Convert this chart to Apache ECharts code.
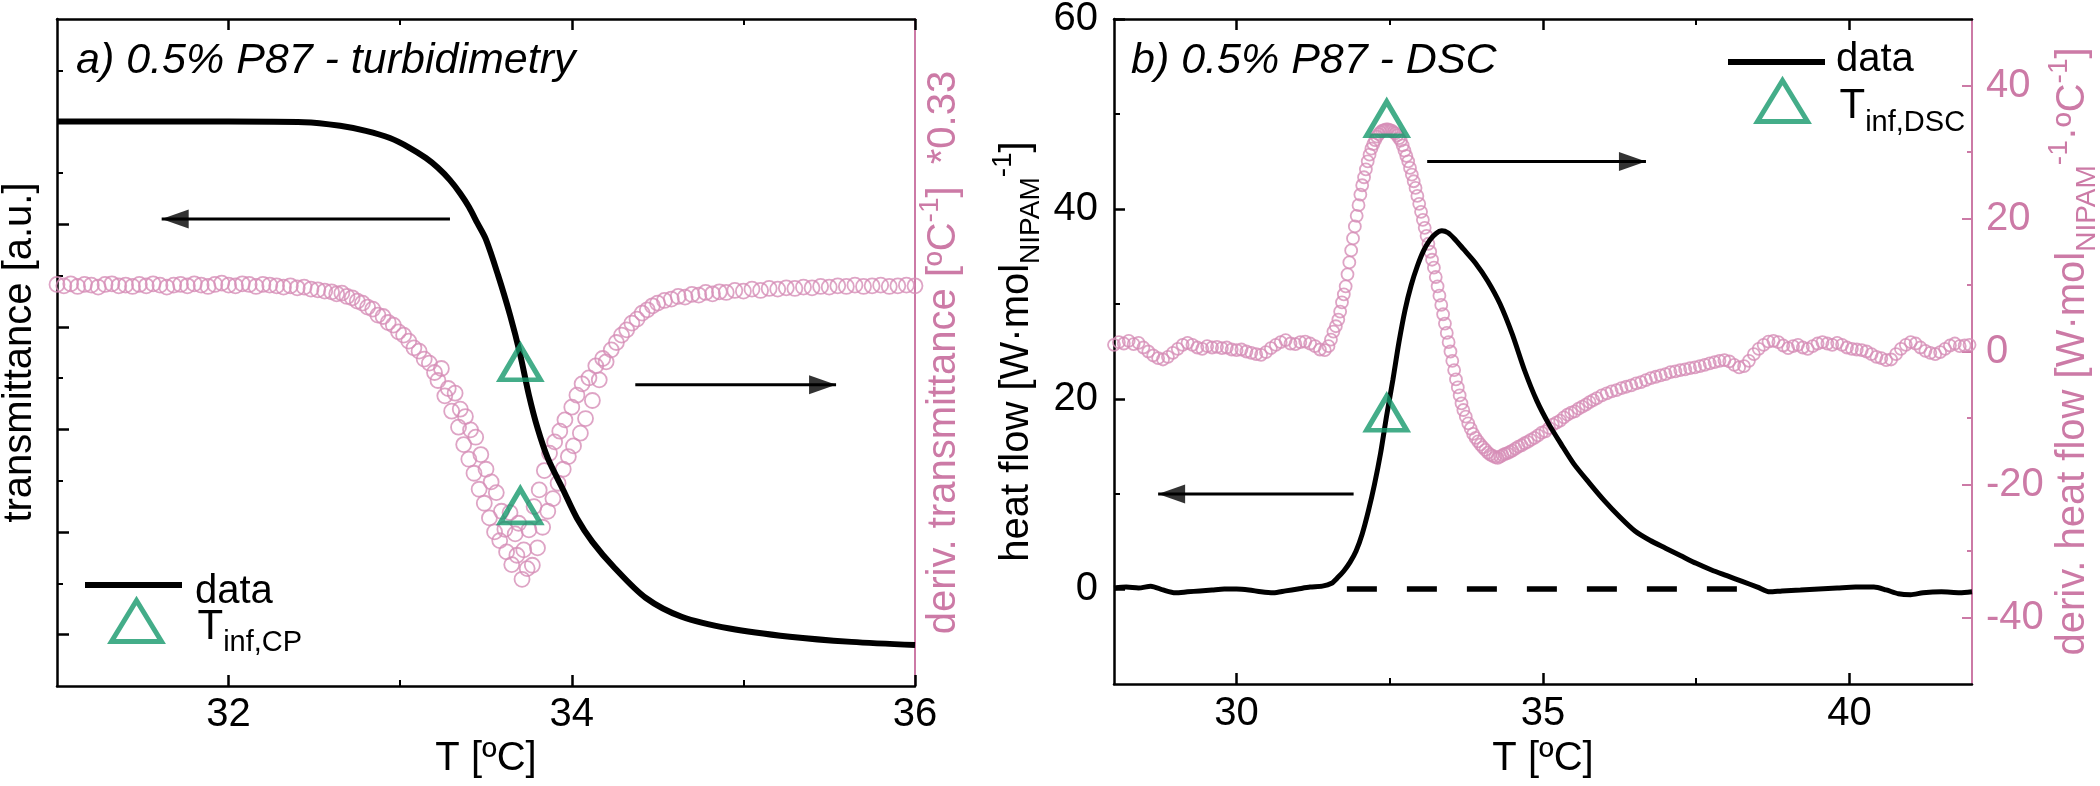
<!DOCTYPE html>
<html><head><meta charset="utf-8">
<script src="https://cdn.jsdelivr.net/npm/echarts@6/dist/echarts.min.js"></script>
<style>html,body{margin:0;padding:0;background:#fff}#c{width:2100px;height:786px}</style>
</head><body><div id="c"></div>
<script>
// ================= DATA =================
// Panel a: transmittance (left axis, a.u.)  [T, value]
const transData = [[31.00,11.00],[32.00,11.00],[32.44,10.99],[32.65,10.92],[32.80,10.82],[32.94,10.68],[33.05,10.50],[33.15,10.29],[33.22,10.10],[33.29,9.86],[33.35,9.60],[33.40,9.34],[33.45,9.02],[33.50,8.70],[33.57,8.01],[33.64,7.23],[33.70,6.45],[33.75,5.67],[33.80,5.03],[33.86,4.44],[33.95,3.82],[34.03,3.27],[34.12,2.81],[34.25,2.30],[34.43,1.72],[34.64,1.35],[34.92,1.12],[35.27,0.96],[35.63,0.86],[36.00,0.80]];
// Panel a: derivative of transmittance (right axis)  [T, value]
const dTransData = [[31.00,0.2],[31.04,0.0],[31.08,0.3],[31.12,-0.1],[31.16,0.2],[31.20,0.1],[31.24,-0.2],[31.28,0.2],[31.32,0.3],[31.36,0.0],[31.40,0.1],[31.44,-0.1],[31.48,0.2],[31.52,0.0],[31.56,0.3],[31.60,0.1],[31.64,-0.2],[31.68,0.1],[31.72,0.2],[31.76,0.0],[31.80,0.3],[31.84,0.1],[31.88,-0.1],[31.92,0.2],[31.96,0.4],[32.00,0.1],[32.04,0.0],[32.08,0.3],[32.12,0.2],[32.16,-0.1],[32.20,0.2],[32.24,0.1],[32.28,0.0],[32.32,-0.2],[32.36,0.0],[32.40,-0.3],[32.44,-0.2],[32.48,-0.5],[32.52,-0.6],[32.56,-0.8],[32.60,-0.9],[32.63,-1.2],[32.66,-1.1],[32.69,-1.6],[32.72,-1.8],[32.75,-2.3],[32.78,-2.6],[32.81,-3.2],[32.84,-3.5],[32.87,-4.4],[32.90,-4.6],[32.93,-5.5],[32.96,-5.9],[32.99,-6.9],[33.02,-7.4],[33.05,-8.3],[33.08,-9.3],[33.11,-9.8],[33.14,-11.0],[33.17,-11.6],[33.20,-13.0],[33.22,-14.2],[33.24,-12.4],[33.26,-16.5],[33.28,-15.4],[33.30,-18.8],[33.32,-16.1],[33.34,-21.2],[33.35,-18.5],[33.37,-23.8],[33.38,-19.6],[33.40,-26.0],[33.41,-21.6],[33.43,-28.1],[33.44,-22.7],[33.46,-30.5],[33.47,-25.3],[33.49,-32.6],[33.50,-27.5],[33.52,-34.8],[33.53,-29.4],[33.55,-36.9],[33.56,-31.0],[33.58,-38.2],[33.59,-33.8],[33.61,-36.5],[33.62,-39.9],[33.64,-34.0],[33.65,-41.8],[33.67,-37.2],[33.68,-40.4],[33.69,-35.6],[33.71,-44.0],[33.72,-39.6],[33.74,-42.4],[33.75,-36.6],[33.77,-41.9],[33.78,-33.1],[33.80,-39.3],[33.81,-30.6],[33.83,-36.2],[33.84,-27.7],[33.86,-33.8],[33.87,-25.1],[33.89,-31.9],[33.90,-23.4],[33.92,-29.6],[33.93,-21.8],[33.95,-27.5],[33.96,-20.1],[33.98,-25.6],[34.00,-18.2],[34.01,-24.0],[34.03,-16.4],[34.05,-22.1],[34.06,-14.7],[34.08,-19.9],[34.10,-13.8],[34.12,-17.2],[34.14,-12.0],[34.16,-14.1],[34.18,-10.9],[34.20,-11.4],[34.23,-9.6],[34.26,-8.5],[34.29,-7.4],[34.32,-6.6],[34.35,-5.6],[34.38,-5.0],[34.41,-4.1],[34.44,-3.6],[34.47,-3.0],[34.50,-2.6],[34.54,-2.2],[34.58,-2.0],[34.62,-1.6],[34.66,-1.7],[34.70,-1.3],[34.74,-1.4],[34.78,-1.0],[34.82,-1.2],[34.86,-0.9],[34.90,-1.0],[34.95,-0.7],[35.00,-0.8],[35.05,-0.5],[35.10,-0.7],[35.15,-0.4],[35.20,-0.5],[35.25,-0.3],[35.30,-0.4],[35.35,-0.2],[35.40,-0.3],[35.45,-0.1],[35.50,-0.2],[35.55,0.0],[35.60,-0.1],[35.65,0.1],[35.70,-0.1],[35.75,0.0],[35.80,0.1],[35.85,-0.1],[35.90,0.0],[35.95,0.1],[36.00,0.0]];
// Panel b: heat flow (left axis)  [T, value]
const heatData = [[28.00,0.1],[28.20,0.2],[28.40,0.1],[28.60,0.3],[28.80,-0.1],[29.00,-0.4],[29.20,-0.3],[29.40,-0.2],[29.60,-0.1],[29.80,0.0],[30.00,0.0],[30.20,-0.1],[30.40,-0.3],[30.60,-0.4],[30.80,-0.2],[31.00,0.0],[31.20,0.2],[31.40,0.3],[31.55,0.6],[31.65,1.2],[31.75,1.9],[31.85,2.8],[31.95,4.0],[32.05,5.8],[32.15,8.2],[32.25,11.0],[32.35,14.3],[32.45,18.3],[32.55,22.0],[32.65,26.0],[32.75,29.4],[32.85,32.0],[32.95,34.0],[33.05,35.6],[33.15,36.7],[33.25,37.4],[33.35,37.7],[33.45,37.5],[33.55,36.9],[33.70,35.8],[33.90,34.3],[34.10,32.4],[34.30,30.0],[34.50,26.8],[34.70,23.0],[34.90,19.8],[35.10,17.3],[35.30,15.2],[35.50,13.2],[35.75,11.2],[36.00,9.3],[36.25,7.6],[36.50,6.1],[36.75,5.1],[37.00,4.3],[37.25,3.5],[37.50,2.7],[37.75,2.0],[38.00,1.4],[38.25,0.8],[38.50,0.2],[38.70,-0.3],[38.90,-0.2],[39.20,-0.1],[39.50,0.0],[39.80,0.1],[40.10,0.2],[40.40,0.2],[40.60,-0.1],[40.80,-0.5],[41.00,-0.6],[41.20,-0.4],[41.50,-0.3],[41.80,-0.4],[42.00,-0.3]];
// Panel b: dashed baseline (left axis)
const baselineData = [[31.80,0],[38.60,0]];
// Panel b: derivative of heat flow (right axis)  [T, value]
const dHeatData = [[28.00,1.0],[28.08,1.4],[28.16,1.2],[28.24,1.6],[28.32,1.1],[28.40,1.3],[28.48,0.6],[28.56,0.0],[28.64,-0.6],[28.72,-1.0],[28.80,-1.2],[28.88,-0.8],[28.96,-0.2],[29.04,0.4],[29.12,1.0],[29.20,1.3],[29.28,1.0],[29.36,0.6],[29.44,0.4],[29.52,0.8],[29.60,0.6],[29.68,0.7],[29.76,0.5],[29.84,0.6],[29.92,0.3],[30.00,0.2],[30.08,0.3],[30.16,0.0],[30.24,-0.2],[30.32,-0.4],[30.40,-0.5],[30.48,-0.1],[30.56,0.5],[30.64,1.0],[30.72,1.4],[30.80,1.7],[30.88,1.2],[30.96,1.1],[31.04,1.4],[31.12,1.5],[31.20,1.2],[31.28,0.8],[31.36,0.3],[31.44,0.2],[31.50,0.8],[31.54,1.8],[31.58,3.0],[31.62,3.8],[31.66,4.8],[31.69,6.0],[31.72,7.4],[31.75,8.6],[31.78,9.8],[31.81,11.6],[31.84,13.4],[31.87,15.2],[31.90,17.0],[31.93,18.8],[31.96,20.4],[31.99,22.0],[32.02,23.6],[32.05,25.0],[32.08,26.2],[32.11,27.4],[32.14,28.6],[32.17,29.6],[32.20,30.5],[32.23,31.2],[32.26,31.8],[32.29,32.3],[32.32,32.7],[32.35,33.0],[32.38,33.2],[32.41,33.3],[32.44,33.4],[32.47,33.4],[32.50,33.3],[32.53,33.2],[32.56,33.0],[32.59,32.8],[32.62,32.5],[32.65,32.1],[32.68,31.7],[32.71,31.0],[32.74,30.2],[32.77,29.4],[32.80,28.6],[32.83,27.6],[32.86,26.6],[32.89,25.6],[32.92,24.6],[32.95,23.4],[32.98,22.2],[33.01,21.0],[33.04,19.8],[33.07,18.6],[33.10,17.4],[33.13,16.2],[33.16,15.0],[33.19,13.8],[33.22,12.6],[33.25,11.2],[33.28,9.8],[33.31,8.4],[33.34,7.0],[33.37,5.6],[33.40,4.2],[33.43,2.8],[33.46,1.4],[33.49,0.0],[33.52,-1.4],[33.55,-2.8],[33.58,-4.2],[33.61,-5.4],[33.64,-6.6],[33.67,-7.8],[33.70,-8.8],[33.74,-9.8],[33.78,-10.8],[33.82,-11.6],[33.86,-12.4],[33.90,-13.0],[33.94,-13.5],[33.98,-14.0],[34.02,-14.4],[34.06,-14.8],[34.10,-15.2],[34.14,-15.5],[34.18,-15.7],[34.22,-15.9],[34.26,-16.0],[34.30,-15.8],[34.34,-15.6],[34.38,-15.4],[34.42,-15.3],[34.46,-15.1],[34.50,-14.9],[34.55,-14.6],[34.60,-14.3],[34.65,-14.1],[34.70,-13.8],[34.75,-13.6],[34.80,-13.3],[34.86,-13.0],[34.92,-12.6],[34.98,-12.2],[35.04,-12.0],[35.10,-11.5],[35.16,-11.0],[35.22,-10.7],[35.28,-10.4],[35.34,-9.9],[35.40,-9.5],[35.46,-9.2],[35.52,-9.0],[35.58,-8.6],[35.64,-8.3],[35.70,-8.0],[35.76,-7.6],[35.82,-7.3],[35.88,-7.0],[35.96,-6.6],[36.04,-6.3],[36.12,-6.0],[36.20,-5.8],[36.28,-5.5],[36.36,-5.3],[36.44,-5.1],[36.52,-4.8],[36.60,-4.6],[36.68,-4.3],[36.76,-4.0],[36.84,-3.8],[36.92,-3.6],[37.00,-3.4],[37.08,-3.1],[37.16,-3.0],[37.24,-2.8],[37.32,-2.7],[37.40,-2.5],[37.48,-2.4],[37.56,-2.2],[37.64,-2.0],[37.72,-1.8],[37.80,-1.6],[37.88,-1.4],[37.96,-1.3],[38.04,-1.5],[38.12,-2.0],[38.20,-2.4],[38.28,-2.2],[38.36,-1.4],[38.44,-0.4],[38.52,0.4],[38.60,1.0],[38.68,1.5],[38.76,1.6],[38.84,1.4],[38.92,0.9],[39.00,0.5],[39.08,0.8],[39.16,1.0],[39.24,0.6],[39.32,0.4],[39.40,0.8],[39.48,1.2],[39.56,1.4],[39.64,1.2],[39.72,1.0],[39.80,1.3],[39.88,1.0],[39.96,0.6],[40.04,0.4],[40.12,0.3],[40.20,0.2],[40.28,0.0],[40.36,-0.4],[40.44,-0.8],[40.52,-1.0],[40.60,-1.3],[40.68,-1.2],[40.76,-0.4],[40.84,0.4],[40.92,1.0],[41.00,1.4],[41.08,1.2],[41.16,0.6],[41.24,0.1],[41.32,-0.2],[41.40,-0.4],[41.48,-0.1],[41.56,0.4],[41.64,0.9],[41.72,1.2],[41.80,0.8],[41.88,0.9],[41.96,1.0]];
// Inflection markers
const tinfCPTrans = [[33.70, 6.3]];
const tinfCPDeriv = [[33.70, -33]];
const tinfDSCHeat = [[32.45, 18.5]];
const tinfDSCDeriv = [[32.45, 35]];
// Arrows: [tailT, tailY, tipT, tipY] in left-axis units
const arrowsA = [[33.29, 9.10, 31.61, 9.10], [34.37, 5.87, 35.54, 5.87]];
const arrowsB = [[33.11, 45.0, 36.68, 45.0], [31.91, 10.0, 28.72, 10.0]];
// Axis ticks / labels
const xMajorA = [32, 34, 36], xMinorA = [33, 35];
const yMajorA = [1, 3, 5, 7, 9, 11], yMinorA = [2, 4, 6, 8, 10, 12];
const xMajorB = [30, 35, 40], xMinorB = [32.5, 37.5];
const yMajorB = [0, 20, 40, 60], yMinorB = [10, 30, 50];
const y2MajorB = [-40, -20, 0, 20, 40], y2MinorB = [-30, -10, 10, 30];

// ================= STYLE =================
const FONT = '"Liberation Sans", Arial, Helvetica, sans-serif';
const BLACK = '#000';
const PINK = '#d68db6';
const PINK_AX = '#cc7aa6';
const GREEN = '#15986b';

const chart = echarts.init(document.getElementById('c'), null, {renderer: 'canvas'});

function xSet(gi, min, max, major, minor, margin, nameGap) {
  const line = {show: true, onZero: false, lineStyle: {color: BLACK, width: 2.5}};
  const noLine = {show: false, onZero: false};
  const base = {gridIndex: gi, type: 'value', min: min, max: max, splitLine: {show: false}, minorTick: {show: false}};
  return [
    Object.assign({}, base, {position: 'bottom', axisLine: line,
      axisTick: {show: true, inside: true, length: 11, customValues: major, lineStyle: {color: BLACK, width: 2.5}},
      axisLabel: {show: true, customValues: major, fontSize: 40, lineHeight: 40, color: BLACK, margin: margin, fontFamily: FONT},
      name: 'T [ºC]', nameLocation: 'middle', nameGap: nameGap, nameMoveOverlap: false,
      nameTextStyle: {fontSize: 40, lineHeight: 44, color: BLACK, fontFamily: FONT}}),
    Object.assign({}, base, {position: 'bottom', axisLine: noLine,
      axisTick: {show: true, inside: true, length: 6, customValues: minor, lineStyle: {color: BLACK, width: 2}},
      axisLabel: {show: false}}),
    Object.assign({}, base, {position: 'top', axisLine: line,
      axisTick: {show: true, inside: true, length: 11, customValues: major, lineStyle: {color: BLACK, width: 2.5}},
      axisLabel: {show: false}}),
    Object.assign({}, base, {position: 'top', axisLine: noLine,
      axisTick: {show: true, inside: true, length: 6, customValues: minor, lineStyle: {color: BLACK, width: 2}},
      axisLabel: {show: false}})
  ];
}

const nameRich = (color) => ({
  n: {fontSize: 40, lineHeight: 56, color: color, fontFamily: FONT},
  sub: {fontSize: 28, verticalAlign: 'bottom', color: color, fontFamily: FONT},
  sup: {fontSize: 28, verticalAlign: 'top', color: color, fontFamily: FONT}
});

const yAxes = [
  // 0: panel a left major
  {gridIndex: 0, type: 'value', min: 0, max: 13, position: 'left', splitLine: {show: false},
   axisLine: {show: true, onZero: false, lineStyle: {color: BLACK, width: 2.5}},
   axisTick: {show: true, inside: true, length: 12, customValues: yMajorA, lineStyle: {color: BLACK, width: 2.5}},
   axisLabel: {show: false},
   name: '{n|transmittance [a.u.]}', nameLocation: 'middle', nameGap: 15, nameMoveOverlap: false,
   nameTextStyle: {rich: {n: {fontSize: 40, lineHeight: 44, color: BLACK, fontFamily: FONT}}}},
  // 1: panel a left minor
  {gridIndex: 0, type: 'value', min: 0, max: 13, position: 'left', splitLine: {show: false},
   axisLine: {show: false, onZero: false},
   axisTick: {show: true, inside: true, length: 6, customValues: yMinorA, lineStyle: {color: BLACK, width: 2}},
   axisLabel: {show: false}},
  // 2: panel a right (pink derivative)
  {gridIndex: 0, type: 'value', min: -60, max: 40, position: 'right', splitLine: {show: false},
   axisLine: {show: true, onZero: false, lineStyle: {color: PINK_AX, width: 2}},
   axisTick: {show: false}, axisLabel: {show: false},
   name: '{n|deriv. transmittance [ºC}{sup|-1}{n|]  *0.33}', nameLocation: 'middle', nameGap: 1, nameMoveOverlap: false,
   nameTextStyle: {rich: nameRich(PINK_AX)}},
  // 3: panel b left major
  {gridIndex: 1, type: 'value', min: -10, max: 60, position: 'left', splitLine: {show: false},
   axisLine: {show: true, onZero: false, lineStyle: {color: BLACK, width: 2.5}},
   axisTick: {show: true, inside: true, length: 11, customValues: yMajorB, lineStyle: {color: BLACK, width: 2.5}},
   axisLabel: {show: true, customValues: yMajorB, fontSize: 40, lineHeight: 40, color: BLACK, margin: 16, fontFamily: FONT},
   name: '{n|heat flow [W·mol}{sub|NIPAM}{sup|-1}{n|]}', nameLocation: 'middle', nameGap: 69, nameMoveOverlap: false,
   nameTextStyle: {rich: nameRich(BLACK)}},
  // 4: panel b left minor
  {gridIndex: 1, type: 'value', min: -10, max: 60, position: 'left', splitLine: {show: false},
   axisLine: {show: false, onZero: false},
   axisTick: {show: true, inside: true, length: 6, customValues: yMinorB, lineStyle: {color: BLACK, width: 2}},
   axisLabel: {show: false}},
  // 5: panel b right major (pink)
  {gridIndex: 1, type: 'value', min: -50, max: 50, position: 'right', splitLine: {show: false},
   axisLine: {show: true, onZero: false, lineStyle: {color: PINK_AX, width: 2}},
   axisTick: {show: true, inside: true, length: 10, customValues: y2MajorB, lineStyle: {color: PINK_AX, width: 2}},
   axisLabel: {show: true, customValues: y2MajorB, fontSize: 40, lineHeight: 40, color: PINK_AX, margin: 14, fontFamily: FONT},
   name: '{n|deriv. heat flow [W·mol}{sub|NIPAM}{sup|-1}{n|·ºC}{sup|-1}{n|]}', nameLocation: 'middle', nameGap: 73, nameMoveOverlap: false,
   nameTextStyle: {rich: nameRich(PINK_AX)}},
  // 6: panel b right minor
  {gridIndex: 1, type: 'value', min: -50, max: 50, position: 'right', splitLine: {show: false},
   axisLine: {show: false, onZero: false},
   axisTick: {show: true, inside: true, length: 5, customValues: y2MinorB, lineStyle: {color: PINK_AX, width: 2}},
   axisLabel: {show: false}}
];

const xAxes = xSet(0, 31, 36, xMajorA, xMinorA, 9, 51).concat(xSet(1, 28, 42, xMajorB, xMinorB, 10, 53));

const hollowCircle = (size) => ({type: 'scatter', symbol: 'circle', symbolSize: size, silent: true,
  itemStyle: {color: 'rgba(0,0,0,0)', borderColor: PINK, borderWidth: 1.8}});
const triangle = (name, xi, yi, data) => ({type: 'scatter', name: name, xAxisIndex: xi, yAxisIndex: yi, data: data,
  symbol: 'triangle', symbolSize: [40, 34], silent: true, z: 5,
  itemStyle: {color: 'rgba(0,0,0,0)', borderColor: GREEN, borderWidth: 5}});

function arrowSeries(arrows, xi, yi) {
  const out = [];
  arrows.forEach(a => {
    out.push({type: 'line', xAxisIndex: xi, yAxisIndex: yi, data: [[a[0], a[1]], [a[2], a[3]]],
      symbol: 'none', silent: true, z: 4, lineStyle: {color: BLACK, width: 3}});
    const left = a[2] < a[0];
    out.push({type: 'scatter', xAxisIndex: xi, yAxisIndex: yi, data: [[a[2], a[3]]], silent: true, z: 4,
      symbol: 'triangle', symbolSize: [19, 27], symbolRotate: left ? 90 : -90, symbolOffset: [left ? 13.5 : -13.5, 0],
      itemStyle: {color: BLACK}});
  });
  return out;
}

const series = [
  // panel a
  Object.assign(hollowCircle(15), {xAxisIndex: 0, yAxisIndex: 2, data: dTransData}),
  {type: 'line', name: 'data', xAxisIndex: 0, yAxisIndex: 0, data: transData, smooth: 0.3, symbol: 'none', silent: true, z: 3,
   itemStyle: {color: BLACK}, lineStyle: {color: BLACK, width: 6}},
  triangle('Tcp', 0, 0, tinfCPTrans),
  triangle('Tcp', 0, 2, tinfCPDeriv),
  // panel b
  {type: 'line', name: 'data', xAxisIndex: 4, yAxisIndex: 3, data: heatData, smooth: 0.25, symbol: 'none', silent: true,
   itemStyle: {color: BLACK}, lineStyle: {color: BLACK, width: 5}},
  {type: 'line', xAxisIndex: 4, yAxisIndex: 3, data: baselineData, symbol: 'none', silent: true,
   lineStyle: {color: BLACK, width: 5.5, type: [30, 30]}},
  Object.assign(hollowCircle(12), {xAxisIndex: 4, yAxisIndex: 5, data: dHeatData}),
  triangle('Tdsc', 4, 3, tinfDSCHeat),
  triangle('Tdsc', 4, 5, tinfDSCDeriv)
].concat(arrowSeries(arrowsA, 0, 0), arrowSeries(arrowsB, 4, 3));

const legendText = {
  fontSize: 40, color: BLACK, fontFamily: FONT,
  rich: {
    da: {fontSize: 40, lineHeight: 54, color: BLACK, fontFamily: FONT, padding: [14, 0, 0, 8]},
    db: {fontSize: 40, lineHeight: 54, color: BLACK, fontFamily: FONT, padding: [0, 0, 4, 6]},
    ta: {fontSize: 42, lineHeight: 72, color: BLACK, fontFamily: FONT, padding: [12, 0, 0, 31]},
    tb: {fontSize: 42, lineHeight: 72, color: BLACK, fontFamily: FONT, padding: [10, 0, 0, 27]},
    s: {fontSize: 29, verticalAlign: 'bottom', color: BLACK, fontFamily: FONT}
  }
};
const lineLegend = (left, top, tok) => ({data: ['data'], left: left, top: top, orient: 'vertical', padding: 0,
  icon: 'rect', itemWidth: 97, itemHeight: 6, selectedMode: false, itemStyle: {color: BLACK, borderWidth: 0},
  formatter: () => '{' + tok + '|data}', textStyle: legendText});
const triLegend = (name, left, top, tok, sub) => ({data: [name], left: left, top: top, orient: 'vertical', padding: 0,
  icon: 'triangle', itemWidth: 50, itemHeight: 41, selectedMode: false,
  itemStyle: {color: 'rgba(0,0,0,0)', borderColor: GREEN, borderWidth: 5},
  formatter: () => '{' + tok + '|T}{s|' + sub + '}', textStyle: legendText});

const option = {
  animation: false,
  backgroundColor: '#fff',
  textStyle: {fontFamily: FONT},
  title: [
    {text: 'a) 0.5% P87 - turbidimetry', left: 76, top: 36, padding: 0,
     textStyle: {fontSize: 43, lineHeight: 50, fontStyle: 'italic', fontWeight: 'normal', color: BLACK, fontFamily: FONT}},
    {text: 'b) 0.5% P87 - DSC', left: 1131, top: 36, padding: 0,
     textStyle: {fontSize: 43, lineHeight: 50, fontStyle: 'italic', fontWeight: 'normal', color: BLACK, fontFamily: FONT}}
  ],
  legend: [
    lineLegend(85, 558, 'da'),
    triLegend('Tcp', 109, 594, 'ta', 'inf,CP'),
    lineLegend(1728, 40, 'db'),
    triLegend('Tdsc', 1755, 75, 'tb', 'inf,DSC')
  ],
  grid: [
    {left: 57, top: 19, width: 858, height: 667, containLabel: false, outerBoundsMode: 'none'},
    {left: 1114, top: 19, width: 858, height: 665, containLabel: false, outerBoundsMode: 'none'}
  ],
  xAxis: xAxes,
  yAxis: yAxes,
  series: series
};
chart.setOption(option);
</script></body></html>
